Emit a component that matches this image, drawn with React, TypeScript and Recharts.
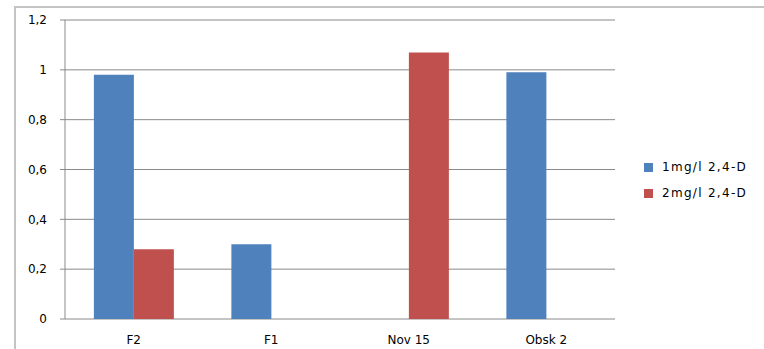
import React from 'react';
import { BarChart, Bar, XAxis, YAxis, CartesianGrid, Legend } from 'recharts';

// Valores
const categories = ['F2', 'F1', 'Nov 15', 'Obsk 2'];
const dose1 = [0.98, 0.3, 0, 0.99];
const dose2 = [0.28, 0, 1.07, 0];
const yTicks = [0, 0.2, 0.4, 0.6, 0.8, 1, 1.2];
const edgeTicks = [0, 1, 2, 3, 4];

const SERIES = [
  { key: 'd1', name: '1mg/l 2,4-D', color: '#4F81BD' },
  { key: 'd2', name: '2mg/l 2,4-D', color: '#C0504D' },
];

const data = categories.map((c, i) => ({ name: c, d1: dose1[i], d2: dose2[i] }));

const FONT = '"DejaVu Sans", sans-serif';
const GRID = '#8a8a8a';

const comma = (v: number) => String(v).replace('.', ',');

const LegendBox = (props: any) => (
  <div style={{ fontFamily: FONT, fontSize: 12, color: '#000' }}>
    {(props.payload || []).map((p: any) => (
      <div key={p.value} style={{ display: 'flex', alignItems: 'center', height: 26 }}>
        <span style={{ width: 9, height: 9, background: p.color, display: 'inline-block', marginRight: 9 }} />
        <span style={{ letterSpacing: 1.3 }}>{p.value}</span>
      </div>
    ))}
  </div>
);

export default function App() {
  return (
    <div style={{ position: 'absolute', left: 0, top: 0, width: 764, height: 349, overflow: 'hidden', background: '#fff' }}>
      <div
        style={{
          position: 'absolute',
          left: 14,
          top: 6,
          width: 800,
          height: 400,
          borderLeft: '2px solid #c4c4c4',
          borderTop: '2px solid #c4c4c4',
        }}
      />
      <BarChart
        width={764}
        height={349}
        data={data}
        margin={{ top: 20, right: 149, bottom: 0, left: 5 }}
        barCategoryGap="21%"
        barGap={0}
        style={{ position: 'absolute', left: 0, top: 0 }}
      >
        <CartesianGrid vertical={false} stroke={GRID} />
        <XAxis
          xAxisId="edge"
          type="number"
          domain={[0, 4]}
          ticks={edgeTicks}
          height={0}
          tick={false}
          tickSize={5}
          stroke={GRID}
          allowDataOverflow
        />
        <XAxis
          dataKey="name"
          height={30}
          axisLine={false}
          tickLine={false}
          tickSize={0}
          tickMargin={16}
          interval={0}
          tick={{ fontFamily: FONT, fontSize: 12, fill: '#000' }}
        />
        <YAxis
          width={60}
          domain={[0, 1.2]}
          ticks={yTicks}
          tickFormatter={comma}
          tickSize={5}
          tickMargin={13}
          stroke={GRID}
          tick={{ fontFamily: FONT, fontSize: 12, fill: '#000' }}
        />
        <Legend
          layout="vertical"
          verticalAlign="middle"
          align="center"
          content={<LegendBox />}
          wrapperStyle={{ left: 644, top: 154, width: 120 }}
        />
        {SERIES.map((s) => (
          <Bar key={s.key} dataKey={s.key} name={s.name} fill={s.color} isAnimationActive={false} />
        ))}
      </BarChart>
    </div>
  );
}
